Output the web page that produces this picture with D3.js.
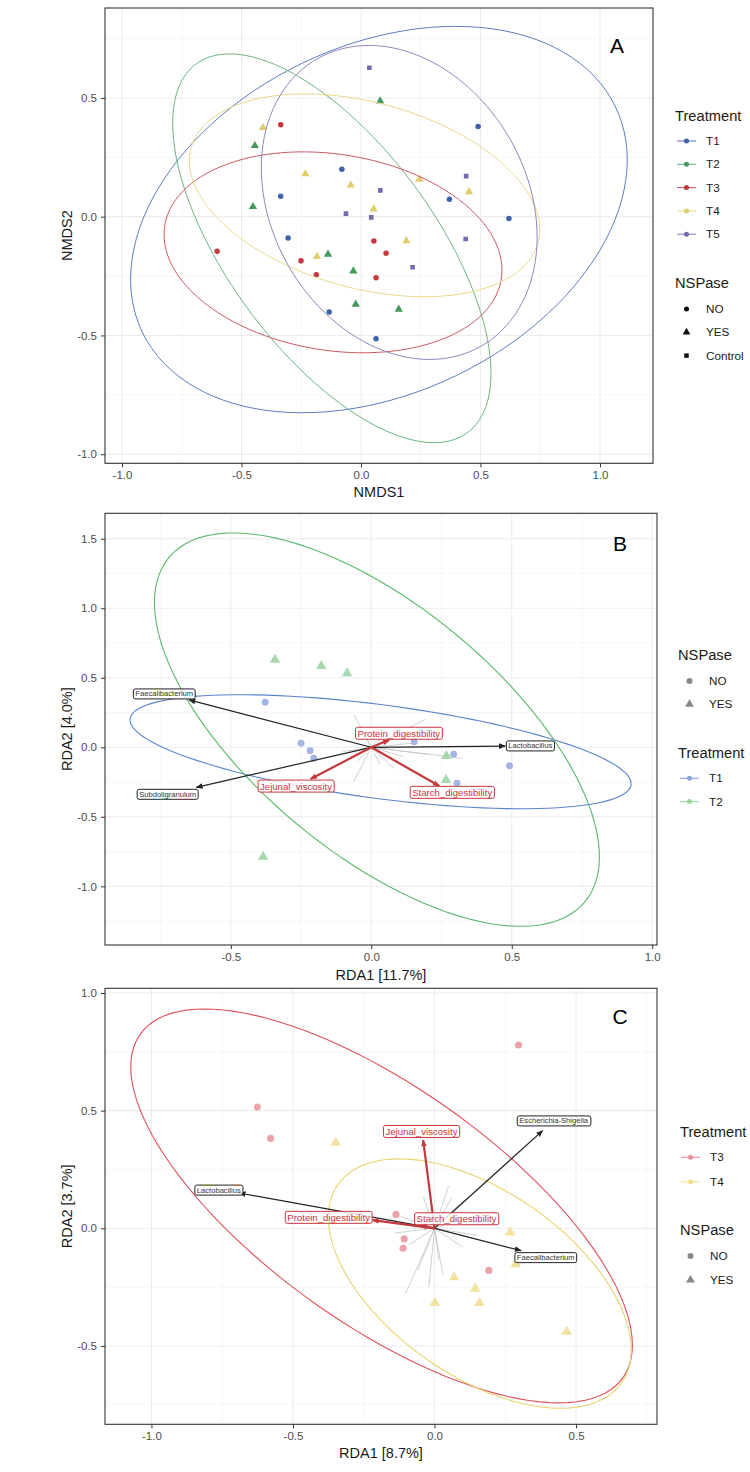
<!DOCTYPE html>
<html><head><meta charset="utf-8">
<script src="https://cdn.jsdelivr.net/npm/d3@7"></script>
<style>
body{margin:0;background:#fff}
svg{display:block;font-family:"Liberation Sans",Arial,Helvetica,sans-serif}
</style></head>
<body><svg id="chart" width="750" height="1472"></svg>
<script>
// ================= DATA =================
// ---- Panel A (NMDS) ----
const aTreatments = ["T1","T2","T3","T4","T5"];
const aNSPase = ["NO","YES","Control"];
const aTreatShape = {T1:"NO", T2:"YES", T3:"NO", T4:"YES", T5:"Control"};
const aPts_T1 = [[0.49,0.38],[-0.08,0.2],[0.37,0.073],[-0.336,0.086],[0.619,-0.008],[-0.305,-0.09],[-0.133,-0.401],[0.063,-0.514]];
const aPts_T2 = [[0.08,0.487],[-0.444,0.299],[-0.452,0.042],[-0.138,-0.158],[-0.032,-0.229],[-0.022,-0.369],[0.158,-0.39]];
const aPts_T3 = [[-0.336,0.387],[0.054,-0.102],[-0.602,-0.146],[0.105,-0.154],[-0.251,-0.186],[-0.187,-0.244],[0.063,-0.257]];
const aPts_T4 = [[-0.41,0.375],[-0.233,0.18],[-0.043,0.133],[0.244,0.157],[0.452,0.105],[0.053,0.032],[0.19,-0.102],[-0.184,-0.168]];
const aPts_T5 = [[0.035,0.627],[0.44,0.171],[0.081,0.111],[-0.063,0.013],[0.043,-0.003],[0.438,-0.094],[0.216,-0.213]];
// ellipse stats: [centre x, centre y, half-range x, half-range y, correlation]
const aEll_T1 = [0.075,-0.012,1.039,0.8135,0.309];
const aEll_T2 = [-0.122,-0.133,0.666,0.8185,-0.643];
const aEll_T3 = [-0.117,-0.15,0.707,0.423,-0.177];
const aEll_T4 = [0.015,0.09,0.733,0.427,-0.34];
const aEll_T5 = [0.16,0.06,0.577,0.661,-0.22];
const aXTicks = [-1.0,-0.5,0.0,0.5,1.0];
const aYTicks = [-1.0,-0.5,0.0,0.5];

// ---- Panel B (RDA T1 vs T2) ----
const bTreatments = ["T1","T2"];
const bNSPase = ["NO","YES"];
const bPts_T1 = [[-0.378,0.324],[-0.25,0.029],[-0.218,-0.024],[-0.205,-0.079],[0.153,0.04],[0.293,-0.05],[0.492,-0.132],[0.305,-0.259]];
const bPts_T2 = [[-0.343,0.63],[-0.178,0.585],[-0.086,0.532],[0.267,-0.063],[0.266,-0.235],[-0.385,-0.787]];
const bEll_T1 = [0.033,-0.032,0.892,0.41,-0.56];
const bEll_T2 = [0.02,0.127,0.792,1.415,-0.646];
const bSpecies = ["Faecalibacterium","Subdoligranulum","Lactobacillus"];
const bSpeciesTip = [[-0.649,0.341],[-0.623,-0.288],[0.477,0.009]];
const bSpeciesLab = [[-0.737,0.385],[-0.725,-0.337],[0.566,0.011]];
const bEnv = ["Protein_digestibility","Jejunal_viscosity","Starch_digestibility"];
const bEnvTip = [[0.064,0.052],[-0.216,-0.228],[0.242,-0.278]];
const bEnvLab = [[0.098,0.1],[-0.268,-0.28],[0.288,-0.325]];
const bOther = [[-0.061,0.232],[0.191,0.201],[0.324,-0.079],[-0.063,-0.247],[0.115,-0.067],[0.05,0.1],[-0.1,-0.03],[0.2,-0.05],[-0.04,0.15],[0.08,-0.15],[-0.12,0.06],[0.15,0.03],[0.03,-0.12],[-0.05,-0.1]];
const bXTicks = [-0.5,0.0,0.5,1.0];
const bYTicks = [-1.0,-0.5,0.0,0.5,1.0,1.5];

// ---- Panel C (RDA T3 vs T4) ----
const cTreatments = ["T3","T4"];
const cNSPase = ["NO","YES"];
const cPts_T3 = [[0.297,0.779],[-0.626,0.515],[-0.579,0.382],[-0.136,0.059],[-0.107,-0.045],[-0.111,-0.085],[0.192,-0.179]];
const cPts_T4 = [[-0.349,0.364],[0.267,-0.017],[0.287,-0.152],[0.069,-0.208],[0.144,-0.257],[0.001,-0.317],[0.159,-0.317],[0.467,-0.439]];
const cEll_T3 = [-0.187,0.095,0.886,0.837,-0.706];
const cEll_T4 = [0.16,-0.235,0.535,0.53,-0.532];
const cSpecies = ["Lactobacillus","Escherichia-Shigella","Faecalibacterium"];
const cSpeciesTip = [[-0.69,0.15],[0.382,0.415],[0.306,-0.095]];
const cSpeciesLab = [[-0.762,0.163],[0.421,0.457],[0.393,-0.124]];
const cEnv = ["Jejunal_viscosity","Protein_digestibility","Starch_digestibility"];
const cEnvTip = [[-0.04,0.375],[-0.219,0.035],[-0.05,0.012]];
const cEnvLab = [[-0.046,0.411],[-0.374,0.046],[0.078,0.04]];
const cOther = [[-0.103,-0.279],[-0.04,0.134],[0.06,0.127],[-0.09,-0.07],[0.016,-0.135],[0.105,0.12],[0.1,-0.08],[-0.12,0.05],[0.15,-0.03],[0.03,-0.2],[-0.06,-0.18],[0.12,0.05],[-0.14,-0.02],[0.05,0.18],[-0.02,-0.25]];
const cXTicks = [-1.0,-0.5,0.0,0.5];
const cYTicks = [-0.5,0.0,0.5,1.0];

// ================= STYLE =================
const colA = {T1:{pt:"#3f62ad",ln:"#5d7cc0"},T2:{pt:"#449a5b",ln:"#6fb383"},T3:{pt:"#c4393f",ln:"#cc5a66"},T4:{pt:"#e2ce6c",ln:"#e9d98c"},T5:{pt:"#7a68ad",ln:"#8f87bb"}};
const colB = {T1:{pt:"#a3b6e3",ln:"#5b84cf",key:"#8ba4da"},T2:{pt:"#a7d9ae",ln:"#5ab96a",key:"#9dd4a5"}};
const colC = {T3:{pt:"#eaa3a9",ln:"#e0505b",key:"#e8909a"},T4:{pt:"#f2e2a0",ln:"#e9d46c",key:"#f0e08f"}};
const symType = {NO:d3.symbolCircle, YES:d3.symbolTriangle, Control:d3.symbolSquare};
const tickCol = "#4d4d4d", borderCol = "#333333";

const svg = d3.select("#chart");
svg.append("rect").attr("width",750).attr("height",1472).attr("fill","#fff");

const defs = svg.append("defs");
function marker(id, color){
  defs.append("marker").attr("id",id).attr("viewBox","0 0 10 10").attr("refX",9).attr("refY",5)
    .attr("markerWidth",7).attr("markerHeight",7).attr("markerUnits","userSpaceOnUse").attr("orient","auto")
    .append("path").attr("d","M0,1 L10,5 L0,9 Z").attr("fill",color);
}
marker("arrBlack","#222");
marker("arrRed","#c23a3e");

function minorTicks(ticks, dom){
  const step = ticks[1]-ticks[0], out=[];
  for(let k=-20;k<=20;k++){ const v = ticks[0]+step*(k+0.5); if(v>dom[0]&&v<dom[1]) out.push(v); }
  return out;
}
const fmt = v => v.toFixed(1);

function frame(id, box, xDom, yDom, xTicks, yTicks, xTitle, xTitleY, yTitle, letter, letterPos){
  const x = d3.scaleLinear().domain(xDom).range([box.l, box.r]);
  const y = d3.scaleLinear().domain(yDom).range([box.b, box.t]);
  const g = svg.append("g");
  g.append("clipPath").attr("id",id).append("rect").attr("x",box.l).attr("y",box.t).attr("width",box.r-box.l).attr("height",box.b-box.t);
  const grid = g.append("g");
  minorTicks(xTicks,xDom).forEach(v=>grid.append("line").attr("x1",x(v)).attr("x2",x(v)).attr("y1",box.t).attr("y2",box.b).attr("stroke","#f2f2f2").attr("stroke-width",0.6));
  minorTicks(yTicks,yDom).forEach(v=>grid.append("line").attr("y1",y(v)).attr("y2",y(v)).attr("x1",box.l).attr("x2",box.r).attr("stroke","#f2f2f2").attr("stroke-width",0.6));
  xTicks.forEach(v=>grid.append("line").attr("x1",x(v)).attr("x2",x(v)).attr("y1",box.t).attr("y2",box.b).attr("stroke","#ebebeb").attr("stroke-width",1));
  yTicks.forEach(v=>grid.append("line").attr("y1",y(v)).attr("y2",y(v)).attr("x1",box.l).attr("x2",box.r).attr("stroke","#ebebeb").attr("stroke-width",1));
  const ax = g.append("g").attr("transform",`translate(0,${box.b})`)
    .call(d3.axisBottom(x).tickValues(xTicks).tickFormat(fmt).tickSize(4).tickPadding(4));
  const ay = g.append("g").attr("transform",`translate(${box.l},0)`)
    .call(d3.axisLeft(y).tickValues(yTicks).tickFormat(fmt).tickSize(4).tickPadding(4));
  [ax,ay].forEach(a=>{
    a.select(".domain").remove();
    a.selectAll(".tick line").attr("stroke",borderCol).attr("stroke-width",1);
    a.selectAll(".tick text").attr("fill",tickCol).style("font-size","11.5px").style("font-family",'"Liberation Sans",Arial,sans-serif');
  });
  g.append("text").attr("x",(box.l+box.r)/2).attr("y",xTitleY).attr("text-anchor","middle").style("font-size","14.5px").attr("fill","#1a1a1a").text(xTitle);
  g.append("text").attr("transform",`translate(72,${(box.t+box.b)/2}) rotate(-90)`).attr("text-anchor","middle").style("font-size","14.5px").attr("fill","#1a1a1a").text(yTitle);
  const plot = g.append("g").attr("clip-path",`url(#${id})`);
  const top = g.append("g");
  top.append("rect").attr("x",box.l).attr("y",box.t).attr("width",box.r-box.l).attr("height",box.b-box.t).attr("fill","none").attr("stroke",borderCol).attr("stroke-width",1.1);
  top.append("text").attr("x",letterPos[0]).attr("y",letterPos[1]).attr("text-anchor","middle").style("font-size","21px").attr("fill","#000").text(letter);
  return {x,y,plot,top};
}

function ellipse(p, e, x, y, color, w){
  const [cx,cy,hx,hy,rho]=e, s=Math.sqrt(1-rho*rho);
  const pts = d3.range(0,121).map(i=>{const t=i/120*2*Math.PI; return [x(cx+hx*Math.cos(t)), y(cy+hy*(rho*Math.cos(t)+s*Math.sin(t)))];});
  p.append("path").attr("d",d3.line()(pts)).attr("fill","none").attr("stroke",color).attr("stroke-width",w||1);
}
function points(p, pts, x, y, shape, color, size){
  const area = shape==="YES" ? size*1.25 : (shape==="Control" ? size*0.9 : size);
  p.selectAll(null).data(pts).enter().append("path")
    .attr("transform",d=>`translate(${x(d[0])},${y(d[1])})`)
    .attr("d",d3.symbol().type(symType[shape]).size(area)).attr("fill",color);
}
function arrow(p, tip, x, y, color, w, mk){
  p.append("line").attr("x1",x(0)).attr("y1",y(0)).attr("x2",x(tip[0])).attr("y2",y(tip[1]))
    .attr("stroke",color).attr("stroke-width",w).attr("marker-end",mk?`url(#${mk})`:null);
}
function label(p, pos, txt, x, y, size, textCol, borderC){
  const gg = p.append("g");
  const t = gg.append("text").attr("x",x(pos[0])).attr("y",y(pos[1])).attr("dy","0.35em").attr("text-anchor","middle")
    .style("font-size",size+"px").attr("fill",textCol).text(txt);
  const bb = t.node().getBBox();
  gg.insert("rect","text").attr("x",bb.x-2).attr("y",bb.y-0.5).attr("width",bb.width+4).attr("height",bb.height+1)
    .attr("rx",2).attr("fill","#fff").attr("fill-opacity",0.85).attr("stroke",borderC).attr("stroke-width",1);
}
function legendTitle(x0, yc, txt){
  svg.append("text").attr("x",x0).attr("y",yc).attr("dy","0.35em").style("font-size","14.7px").attr("fill","#1a1a1a").text(txt);
}
function legendTreat(x0, yc, txt, lineCol, ptCol){
  svg.append("line").attr("x1",x0).attr("x2",x0+19).attr("y1",yc).attr("y2",yc).attr("stroke",lineCol).attr("stroke-width",1.1);
  svg.append("path").attr("transform",`translate(${x0+9.5},${yc})`).attr("d",d3.symbol().type(d3.symbolCircle).size(20)).attr("fill",ptCol);
  svg.append("text").attr("x",x0+29).attr("y",yc).attr("dy","0.35em").style("font-size","11.7px").attr("fill","#1a1a1a").text(txt);
}
function legendShape(x0, yc, txt, shape, col, size){
  svg.append("path").attr("transform",`translate(${x0+9.5},${yc})`).attr("d",d3.symbol().type(symType[shape]).size(size)).attr("fill",col);
  svg.append("text").attr("x",x0+29).attr("y",yc).attr("dy","0.35em").style("font-size","11.7px").attr("fill","#1a1a1a").text(txt);
}

// ================= PANEL A =================
{
  const F = frame("clipA",{l:105,r:653,t:8,b:463.3},[-1.0711,1.2218],[-1.0383,0.8787],aXTicks,aYTicks,
                  "NMDS1",497,"NMDS2","A",[617,53]);
  const pts = {T1:aPts_T1,T2:aPts_T2,T3:aPts_T3,T4:aPts_T4,T5:aPts_T5};
  const ell = {T1:aEll_T1,T2:aEll_T2,T3:aEll_T3,T4:aEll_T4,T5:aEll_T5};
  aTreatments.forEach(t=>points(F.plot,pts[t],F.x,F.y,aTreatShape[t],colA[t].pt,24));
  aTreatments.forEach(t=>ellipse(F.plot,ell[t],F.x,F.y,colA[t].ln,1));
  legendTitle(675,116,"Treatment");
  aTreatments.forEach((t,i)=>legendTreat(677,141+i*23.3,t,colA[t].ln,colA[t].pt));
  legendTitle(675,283,"NSPase");
  aNSPase.forEach((s,i)=>legendShape(677,309+i*23.3,s,s,"#111",s==="YES"?26:20));
}

// ================= PANEL B =================
{
  const F = frame("clipB",{l:105,r:657,t:513.3,b:945},[-0.948,1.017],[-1.422,1.683],bXTicks,bYTicks,
                  "RDA1 [11.7%]",980,"RDA2 [4.0%]","B",[620,551]);
  bOther.forEach(d=>arrow(F.plot,d,F.x,F.y,"#c4c4c4",0.8,null));
  points(F.plot,bPts_T1,F.x,F.y,"NO",colB.T1.pt,38);
  points(F.plot,bPts_T2,F.x,F.y,"YES",colB.T2.pt,38);
  ellipse(F.plot,bEll_T1,F.x,F.y,colB.T1.ln,1.1);
  ellipse(F.plot,bEll_T2,F.x,F.y,colB.T2.ln,1.1);
  bSpeciesTip.forEach(d=>arrow(F.plot,d,F.x,F.y,"#222",1.2,"arrBlack"));
  bEnvTip.forEach(d=>arrow(F.plot,d,F.x,F.y,"#c23a3e",2.2,"arrRed"));
  bSpecies.forEach((s,i)=>label(F.plot,bSpeciesLab[i],s,F.x,F.y,7.6,"#333","#222"));
  bEnv.forEach((s,i)=>label(F.plot,bEnvLab[i],s,F.x,F.y,9.6,"#c8353b","#c8353b"));
  legendTitle(678,655,"NSPase");
  bNSPase.forEach((s,i)=>legendShape(680,681+i*23.3,s,s,"#888",s==="YES"?34:28));
  legendTitle(678,753.3,"Treatment");
  bTreatments.forEach((t,i)=>legendTreat(680,778.3+i*23.3,t,colB[t].key,colB[t].key));
}

// ================= PANEL C =================
{
  const F = frame("clipC",{l:105,r:657,t:988.3,b:1424.3},[-1.164,0.786],[-0.833,1.02],cXTicks,cYTicks,
                  "RDA1 [8.7%]",1458,"RDA2 [3.7%]","C",[620,1024]);
  cOther.forEach(d=>arrow(F.plot,d,F.x,F.y,"#c4c4c4",0.8,null));
  points(F.plot,cPts_T3,F.x,F.y,"NO",colC.T3.pt,40);
  points(F.plot,cPts_T4,F.x,F.y,"YES",colC.T4.pt,40);
  ellipse(F.plot,cEll_T3,F.x,F.y,colC.T3.ln,1.1);
  ellipse(F.plot,cEll_T4,F.x,F.y,colC.T4.ln,1.1);
  cSpeciesTip.forEach(d=>arrow(F.plot,d,F.x,F.y,"#222",1.2,"arrBlack"));
  cEnvTip.forEach(d=>arrow(F.plot,d,F.x,F.y,"#c23a3e",2.2,"arrRed"));
  cSpecies.forEach((s,i)=>label(F.plot,cSpeciesLab[i],s,F.x,F.y,7.6,"#333","#222"));
  cEnv.forEach((s,i)=>label(F.plot,cEnvLab[i],s,F.x,F.y,9.6,"#c8353b","#c8353b"));
  legendTitle(680,1131.7,"Treatment");
  cTreatments.forEach((t,i)=>legendTreat(681,1157.3+i*24.4,t,colC[t].key,colC[t].key));
  legendTitle(680,1230,"NSPase");
  cNSPase.forEach((s,i)=>legendShape(681,1256+i*24,s,s,"#888",s==="YES"?34:28));
}
</script></body></html>
